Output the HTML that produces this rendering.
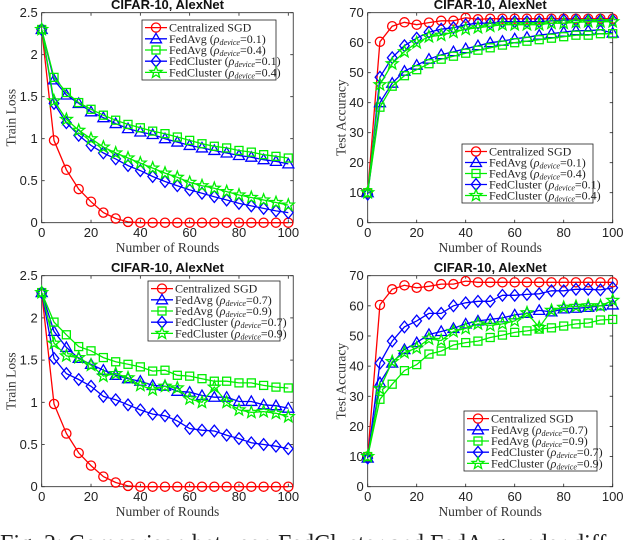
<!DOCTYPE html>
<html><head><meta charset="utf-8"><style>
html,body{margin:0;padding:0;background:#fff;width:640px;height:540px;overflow:hidden}
svg{display:block}
</style></head><body>
<svg id="fig" width="640" height="540" xmlns="http://www.w3.org/2000/svg">
<text x="0" y="551" font-family="Liberation Serif, serif" font-size="24" fill="#222">Fig. 2:  Comparison between FedCluster and FedAvg under diff</text>
</svg>
<script>
const rounds = [0,5,10,15,20,25,30,35,40,45,50,55,60,65,70,75,80,85,90,95,100];
const tlCentral = [2.3,0.98,0.63,0.40,0.25,0.12,0.05,0.01,0,0,0,0,0,0,0,0,0,0,0,0,0];
const tlAvgA = [2.3,1.70,1.52,1.42,1.32,1.25,1.18,1.12,1.08,1.05,1.00,0.96,0.92,0.89,0.86,0.83,0.80,0.78,0.75,0.73,0.70];
const tlAvgB = [2.3,1.73,1.55,1.43,1.35,1.28,1.22,1.17,1.13,1.09,1.06,1.02,0.98,0.94,0.91,0.89,0.86,0.84,0.81,0.79,0.77];
const tlClA = [2.3,1.42,1.19,1.04,0.92,0.83,0.76,0.68,0.62,0.55,0.49,0.44,0.39,0.35,0.31,0.27,0.23,0.20,0.17,0.14,0.12];
const tlClB = [2.3,1.45,1.23,1.10,1.00,0.90,0.83,0.77,0.71,0.65,0.59,0.54,0.48,0.44,0.41,0.37,0.33,0.30,0.27,0.24,0.21];
const trCentral = [10,60.3,65.5,66.8,66,66.7,67.3,67.3,68.3,67.8,68,68,68,68,68,68,68,68,68,68,68];
const trAvgA = [10,40,46.5,50.5,52.5,54.5,56,57,58,59,60,60.5,61.3,61.8,62.5,63,63.5,64,64,64.3,63.2];
const trAvgB = [10,38.5,45.5,49,51,53,54.5,55.5,56.5,57.5,58.3,59.2,60,60.5,61,61.5,62,62.5,62.5,63,63];
const trClA = [9.5,48.5,55,59,61.5,63.5,64.5,65,66,66.5,66.5,67,67,67,67,67.3,67.5,67.5,67.5,67.5,67.5];
const trClB = [10,46,53,57,60,62,62.5,63.5,64.5,65,65.5,66,66,66,66,66.5,66.5,66.8,67,67,67];
const blCentral = [2.3,0.98,0.63,0.40,0.25,0.12,0.05,0.01,0,0,0,0,0,0,0,0,0,0,0,0,0];
const blAvgA = [2.3,1.84,1.65,1.52,1.45,1.38,1.32,1.28,1.25,1.20,1.19,1.13,1.12,1.08,1.06,1.06,1.01,1.01,0.97,0.96,0.93];
const blAvgB = [2.3,1.95,1.80,1.66,1.61,1.53,1.48,1.45,1.42,1.37,1.38,1.32,1.31,1.28,1.25,1.25,1.23,1.23,1.20,1.18,1.17];
const blClA = [2.3,1.52,1.34,1.27,1.19,1.07,1.03,0.97,0.91,0.86,0.84,0.78,0.69,0.67,0.66,0.61,0.57,0.52,0.50,0.48,0.45];
const blClB = [2.3,1.70,1.55,1.53,1.44,1.31,1.34,1.29,1.20,1.15,1.19,1.17,1.04,1.00,1.18,1.00,0.91,0.88,0.89,0.87,0.83];
const brCentral = [10,60.3,65.5,66.8,66,66.5,67.2,67.2,68.2,67.8,67.8,67.8,67.8,67.8,67.8,67.8,67.8,67.8,67.8,67.8,67.8];
const brAvgA = [9.5,34.5,41,45.5,47.8,50.5,51.5,52.5,54,55,55.5,56,57,57.5,58.5,58,59,59.2,59.5,60,60.3];
const brAvgB = [10,29,34,38.5,40.5,44,45,47,47.8,48.3,49.5,50.3,51.2,51.7,52.3,52.7,53.3,54,54.3,55.3,55.5];
const brClA = [9.5,41,48.3,53,55,57.5,57.5,60,61,61.5,61.5,63.5,63.5,63.8,64,65,65,65.5,65.5,65.3,66];
const brClB = [10,32.5,41.5,44.5,46,49,48.5,51.5,52.5,54,53.5,54,55,57.7,52.8,58.5,59.5,59.8,60,60,61.8];

const xTicks = [0,20,40,60,80,100];
const lossTicks = [0,0.5,1,1.5,2,2.5];
const lossTickLabels = ['0','0.5','1','1.5','2','2.5'];
const accTicks = [0,10,20,30,40,50,60,70];
const accTickLabels = ['0','10','20','30','40','50','60','70'];
const rhoTop = ['0.1','0.4'];
const rhoBottom = ['0.7','0.9'];

const NS='http://www.w3.org/2000/svg';
const svg=document.getElementById('fig');
function mk(tag,attrs,parent){const e=document.createElementNS(NS,tag);for(const k in attrs)e.setAttribute(k,attrs[k]);(parent||svg).appendChild(e);return e;}

const RED='#ff0000',BLUE='#0000ff',GREEN='#00ee00';
function marker(g,type,cx,cy,color){
  const s={fill:'none',stroke:color,'stroke-width':1.3};
  let e;
  if(type==='circle'){e=mk('circle',Object.assign({cx:cx,cy:cy,r:4.6},s),g);}
  else if(type==='tri'){e=mk('polygon',Object.assign({points:`${cx},${cy-5.5} ${cx+5.5},${cy+4} ${cx-5.5},${cy+4}`},s),g);}
  else if(type==='square'){e=mk('rect',Object.assign({x:cx-4,y:cy-4,width:8,height:8},s),g);}
  else if(type==='diamond'){e=mk('polygon',Object.assign({points:`${cx},${cy-5.8} ${cx+4.8},${cy} ${cx},${cy+5.8} ${cx-4.8},${cy}`},s),g);}
  else {let p=[];for(let i=0;i<10;i++){const r=i%2?2.6:6.2;const a=-Math.PI/2+i*Math.PI/5;p.push((cx+r*Math.cos(a)).toFixed(1)+','+(cy+r*Math.sin(a)).toFixed(1));}
    e=mk('polygon',Object.assign({points:p.join(' ')},s),g);}
  
  
}

function chart(cfg){
  const {id,x0,x1,xmax,yTop,yBot,ymax,yTicks,yLabels,ylabel,series,legend,title,tickY,xlY}=cfg;
  const g=mk('g',{});
  
  
  const sx=v=>x0+(v/100)*(x1-x0);
  const boxR=x0+(xmax/100)*(x1-x0);
  const sy=v=>yBot-(v/ymax)*(yBot-yTop);
  const t=mk('text',{x:(x0+boxR)/2,y:yTop-3.5,'text-anchor':'middle','font-family':'Liberation Sans, sans-serif','font-weight':'bold','font-size':13,fill:'#111'},g);
  t.textContent=title;
  
  
  const box=mk('rect',{x:x0,y:yTop,width:boxR-x0,height:yBot-yTop,fill:'none',stroke:'#222','stroke-width':0.8},g);
  
  
  xTicks.forEach(v=>{
    const x=sx(v);
    mk('line',{x1:x,x2:x,y1:yBot,y2:yBot-3,stroke:'#222','stroke-width':0.8},g);
    mk('line',{x1:x,x2:x,y1:yTop,y2:yTop+3,stroke:'#222','stroke-width':0.8},g);
    const tl=mk('text',{x:x,y:tickY,'text-anchor':'middle','font-family':'Liberation Sans, sans-serif','font-size':13,fill:'#222'},g);
    tl.textContent=String(v);
    
    
  });
  yTicks.forEach((v,i)=>{
    const y=sy(v);
    mk('line',{x1:x0,x2:x0+3,y1:y,y2:y,stroke:'#222','stroke-width':0.8},g);
    mk('line',{x1:boxR,x2:boxR-3,y1:y,y2:y,stroke:'#222','stroke-width':0.8},g);
    const tl=mk('text',{x:x0-4,y:y+4.5,'text-anchor':'end','font-family':'Liberation Sans, sans-serif','font-size':13,fill:'#222'},g);
    tl.textContent=yLabels[i];
    
    
  });
  const xl=mk('text',{x:(x0+boxR)/2,y:xlY,'text-anchor':'middle','font-family':'Liberation Serif, serif','font-size':13.5,fill:'#333'},g);
  xl.textContent='Number of Rounds';
  
  
  const yc=(yTop+yBot)/2, yx=x0-(ymax>10?22:26);
  const yl=mk('text',{x:yx,y:yc,'text-anchor':'middle','font-family':'Liberation Serif, serif','font-size':13.5,fill:'#333',transform:`rotate(-90 ${yx} ${yc})`},g);
  yl.textContent=ylabel;
  
  
  series.forEach(s=>{
    const sg=mk('g',{},g);
    
    
    const pts=rounds.map((r,i)=>sx(r).toFixed(1)+','+sy(s.data[i]).toFixed(1)).join(' ');
    const pl=mk('polyline',{points:pts,fill:'none',stroke:s.color,'stroke-width':1.3},sg);
    
    
    rounds.forEach((r,i)=>marker(sg,s.marker,sx(r),sy(s.data[i]),s.color));
  });
  const L=legend;
  const lg=mk('g',{},g);
  
  
  mk('rect',{x:L.x,y:L.y,width:L.w,height:L.h,fill:'#fff',stroke:'#222','stroke-width':0.8},lg);
  const rowH=(L.h-4)/5;
  series.forEach((s,i)=>{
    const cy=L.y+2+rowH*(i+0.5);
    const eg=mk('g',{},lg);
    
    
    mk('line',{x1:L.x+3,x2:L.x+25,y1:cy,y2:cy,stroke:s.color,'stroke-width':1.3},eg);
    marker(eg,s.marker,L.x+14,cy,s.color);
    const tx=mk('text',{x:L.x+27,y:cy+4,'font-family':'Liberation Serif, serif','font-size':12,fill:'#222'},eg);
    if(s.rho){
      tx.appendChild(document.createTextNode(s.label+' ('));
      const r=mk('tspan',{'font-style':'italic'},tx); r.textContent='ρ';
      const d=mk('tspan',{'font-style':'italic','font-size':8,dy:2},tx); d.textContent='device';
      const v=mk('tspan',{dy:-2},tx); v.textContent='='+s.rho+')';
    } else tx.textContent=s.label;
  });
}

function mkSeries(c,aA,aB,cA,cB,rho){
  return [
    {name:'centralized-sgd',label:'Centralized SGD',data:c,color:RED,marker:'circle'},
    {name:'fedavg-'+rho[0],label:'FedAvg',rho:rho[0],data:aA,color:BLUE,marker:'tri'},
    {name:'fedavg-'+rho[1],label:'FedAvg',rho:rho[1],data:aB,color:GREEN,marker:'square'},
    {name:'fedcluster-'+rho[0],label:'FedCluster',rho:rho[0],data:cA,color:BLUE,marker:'diamond'},
    {name:'fedcluster-'+rho[1],label:'FedCluster',rho:rho[1],data:cB,color:GREEN,marker:'star'}
  ];
}

chart({id:'chart-train-loss-top',x0:41.7,x1:288.3,xmax:102,yTop:12.7,yBot:222.7,ymax:2.5,yTicks:lossTicks,yLabels:lossTickLabels,ylabel:'Train Loss',title:'CIFAR-10, AlexNet',tickY:237,xlY:252,
  series:mkSeries(tlCentral,tlAvgA,tlAvgB,tlClA,tlClB,rhoTop),legend:{x:142,y:20,w:134,h:60}});
chart({id:'chart-test-acc-top',x0:367.7,x1:612.7,xmax:100,yTop:12.7,yBot:222.7,ymax:70,yTicks:accTicks,yLabels:accTickLabels,ylabel:'Test Accuracy',title:'CIFAR-10, AlexNet',tickY:237,xlY:252,
  series:mkSeries(trCentral,trAvgA,trAvgB,trClA,trClB,rhoTop),legend:{x:462,y:144,w:131,h:59}});
chart({id:'chart-train-loss-bottom',x0:41.7,x1:288.3,xmax:102,yTop:275.7,yBot:486.7,ymax:2.5,yTicks:lossTicks,yLabels:lossTickLabels,ylabel:'Train Loss',title:'CIFAR-10, AlexNet',tickY:501,xlY:516,
  series:mkSeries(blCentral,blAvgA,blAvgB,blClA,blClB,rhoBottom),legend:{x:148,y:281,w:132,h:60}});
chart({id:'chart-test-acc-bottom',x0:367.7,x1:612.7,xmax:100,yTop:275.7,yBot:486.7,ymax:70,yTicks:accTicks,yLabels:accTickLabels,ylabel:'Test Accuracy',title:'CIFAR-10, AlexNet',tickY:501,xlY:516,
  series:mkSeries(brCentral,brAvgA,brAvgB,brClA,brClB,rhoBottom),legend:{x:464,y:411,w:133,h:60}});
</script>
</body></html>
